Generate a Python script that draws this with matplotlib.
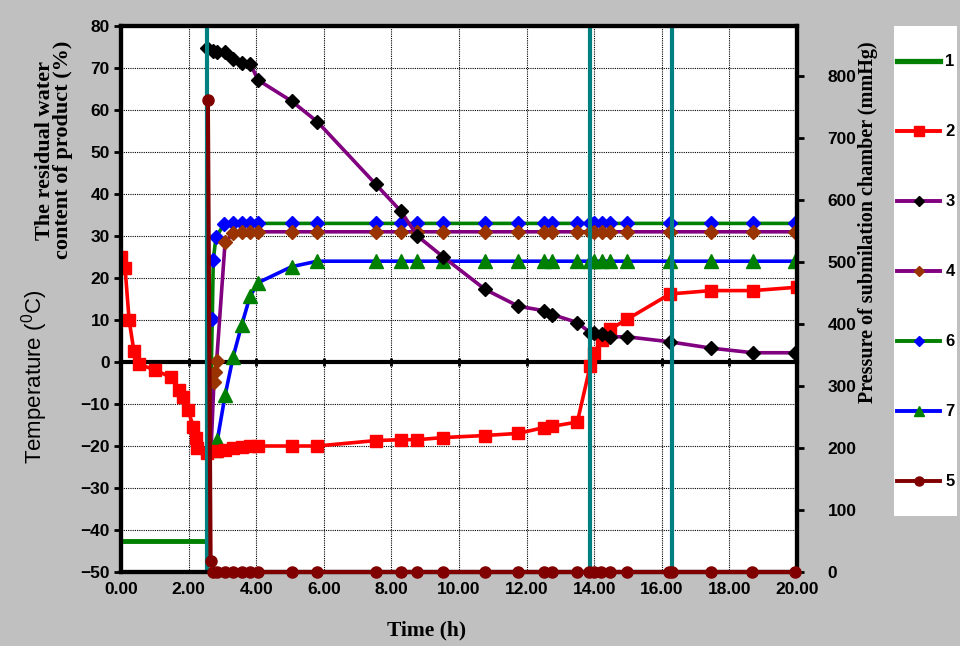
import matplotlib
matplotlib.use('Agg')
import matplotlib.pyplot as plt
from matplotlib.lines import Line2D
from matplotlib.patches import Rectangle

# ---------------- data ----------------
# 1: shelf temperature during freezing (green, no markers)
t1 = [0.0, 2.55]
s1 = [-42.5, -42.5]

# 2: product temperature (red squares)
t2 = [0.0, 0.12, 0.24, 0.38, 0.53, 1.0, 1.47, 1.72, 1.82, 1.98, 2.14, 2.22, 2.26,
      2.55, 2.83, 3.08, 3.32, 3.57, 3.82, 4.06, 5.05, 5.81, 7.54, 8.28, 8.77, 9.52,
      10.77, 11.75, 12.52, 12.76, 13.5, 13.88, 14.0, 14.22, 14.47, 14.98, 16.24,
      17.46, 18.7, 20.0]
s2 = [25, 22.4, 10, 2.7, -0.5, -1.9, -3.6, -6.7, -8.3, -11.4, -15.4, -18.1, -20.5,
      -21.7, -21.3, -21.0, -20.5, -20.2, -20.0, -20.0, -20.0, -20.0, -18.7, -18.5,
      -18.5, -18.0, -17.5, -17.0, -15.6, -15.3, -14.3, -1.0, 2.2, 5.2, 7.8, 10.2,
      16.2, 17.0, 17.0, 17.8]

# 3: residual water content (purple line, black diamonds)
t3 = [2.53, 2.73, 2.83, 3.08, 3.32, 3.57, 3.82, 4.06, 5.05, 5.81, 7.54, 8.28, 8.77,
      9.52, 10.77, 11.75, 12.52, 12.76, 13.5, 13.88, 14.0, 14.22, 14.47, 14.98,
      16.24, 17.46, 18.7, 19.94]
s3 = [74.7, 74.1, 73.8, 73.8, 72.1, 71.1, 71.0, 67.1, 62.1, 57.2, 42.3, 35.9, 30.0,
      25.1, 17.3, 13.3, 12.2, 11.3, 9.4, 7.0, 6.8, 6.7, 6.0, 6.0, 4.8, 3.3, 2.2, 2.2]

# 4: purple line, brown diamonds
t4 = [2.66, 2.75, 2.78, 2.83, 3.08, 3.32, 3.57, 3.82, 4.06, 5.05, 5.81, 7.54, 8.28,
      8.77, 9.52, 10.77, 11.75, 12.52, 12.76, 13.5, 13.88, 14.0, 14.22, 14.47, 14.98,
      16.24, 17.46, 18.7, 19.94]
s4 = [-21.5, -4.7, -2.3, 0.3, 28.6, 30.6, 31, 31, 31, 31, 31, 31, 31, 31, 31, 31,
      31, 31, 31, 31, 31, 31, 31, 31, 31, 31, 31, 31, 31]

# 6: green line, blue diamonds
t6 = [2.62, 2.70, 2.73, 2.81, 3.05, 3.32, 3.57, 3.82, 4.06, 5.05, 5.81, 7.54, 8.28,
      8.77, 9.52, 10.77, 11.75, 12.52, 12.76, 13.5, 13.88, 14.0, 14.22, 14.47, 14.98,
      16.24, 17.46, 18.7, 19.94]
s6 = [-21.5, 10.2, 24.3, 29.7, 32.8, 33, 33, 33, 33, 33, 33, 33, 33, 33, 33, 33, 33,
      33, 33, 33, 33, 33, 33, 33, 33, 33, 33, 33, 33]

# 7: blue line, green triangles
t7 = [2.52, 2.78, 2.85, 3.08, 3.32, 3.57, 3.82, 4.06, 5.05, 5.81, 7.54, 8.28, 8.77,
      9.52, 10.77, 11.75, 12.52, 12.76, 13.5, 13.88, 14.0, 14.22, 14.47, 14.98,
      16.24, 17.46, 18.7, 19.94]
s7 = [-22.0, -21.0, -18.6, -7.9, 1.3, 8.8, 15.7, 18.9, 22.7, 24, 24, 24, 24, 24, 24,
      24, 24, 24, 24, 24, 24, 24, 24, 24, 24, 24, 24, 24]

# 5: chamber pressure, mmHg (dark red circles, right axis)
t5 = [2.57, 2.65, 2.72, 2.83, 3.08, 3.32, 3.57, 3.82, 4.06, 5.05, 5.81, 7.54, 8.28,
      8.77, 9.52, 10.77, 11.75, 12.52, 12.76, 13.5, 13.85, 13.98, 14.2, 14.47, 14.96,
      16.2, 16.3, 17.45, 18.68, 19.94]
p5 = [760, 17, 0, 0, 0, 0, 0, 0, 0, 0, 0, 0, 0, 0, 0, 0, 0, 0, 0, 0, 0, 0, 0, 0, 0,
      0, 0, 0, 0, 0]

# stage boundaries (teal vertical lines)
stage_t = [2.55, 13.88, 16.3]

x_ticks = [0, 2, 4, 6, 8, 10, 12, 14, 16, 18, 20]
y_ticks = [-50, -40, -30, -20, -10, 0, 10, 20, 30, 40, 50, 60, 70, 80]
p_ticks = [0, 100, 200, 300, 400, 500, 600, 700, 800]
legend_labels = ['1', '2', '3', '4', '6', '7', '5']

# ---------------- styling ----------------
GREEN = '#008000'
RED = '#ff0000'
PURPLE = '#800080'
BROWN = '#993300'
BLUE = '#0000ff'
DARKRED = '#800000'
TEAL = '#008080'
SANS = 'Liberation Sans'
SERIF = 'Liberation Serif'
TICK_FS = 12.5

fig = plt.figure(figsize=(9.6, 6.46), dpi=100, facecolor='#c0c0c0')
ax = fig.add_axes([121 / 960, 74 / 646, 676 / 960, 546 / 646])
ax.set_facecolor('white')

ax.set_xlim(0, 20)
ax.set_ylim(-50, 80)
ax.set_xticks(x_ticks)
ax.set_xticklabels([f'{v:.2f}' for v in x_ticks])
ax.set_yticks(y_ticks)
ax.grid(True, color='black', linestyle=(0, (1, 1)), linewidth=0.8)
ax.set_axisbelow(True)

for sp in ax.spines.values():
    sp.set_linewidth(3)
    sp.set_color('black')

ax.tick_params(axis='x', length=0, pad=7)
ax.tick_params(axis='y', direction='out', length=5, width=2, pad=3)
for lab in ax.get_xticklabels() + ax.get_yticklabels():
    lab.set_fontfamily(SANS)
    lab.set_fontweight('bold')
    lab.set_fontsize(TICK_FS)

# x axis crossing at zero
sec = ax.secondary_xaxis(50 / 130)
sec.set_xticks(x_ticks)
sec.set_xticklabels([])
sec.tick_params(direction='inout', length=6, width=2)
sec.spines['bottom'].set_linewidth(3)
sec.spines['top'].set_visible(False)

lw = 2.6
ax.plot(t1, s1, color=GREEN, lw=3.5, zorder=3)
ax.plot(t2, s2, color=RED, lw=lw, marker='s', ms=8.5, mfc=RED, mec=RED, zorder=4)
ax.plot(t6, s6, color=GREEN, lw=lw, marker='D', ms=7, mfc=BLUE, mec=BLUE,
        markevery=list(range(1, len(t6))), zorder=3)
ax.plot(t4, s4, color=PURPLE, lw=lw, marker='D', ms=7, mfc=BROWN, mec=BROWN,
        markevery=list(range(1, len(t4))), zorder=3)
ax.plot(t7, s7, color=BLUE, lw=lw, marker='^', ms=9.5, mfc=GREEN, mec=GREEN,
        markevery=list(range(1, len(t7))), zorder=3)
ax.plot(t3, s3, color=PURPLE, lw=lw, marker='D', ms=7, mfc='black', mec='black',
        zorder=4)
for tv in stage_t:
    ax.axvline(tv, color=TEAL, lw=3, zorder=5)

ax2 = ax.twinx()
ax2.set_ylim(0, 880)
ax2.set_yticks(p_ticks)
ax2.tick_params(axis='y', direction='out', length=5, width=2, pad=17)
for lab in ax2.get_yticklabels():
    lab.set_fontfamily(SANS)
    lab.set_fontweight('bold')
    lab.set_fontsize(TICK_FS)
for sp in ax2.spines.values():
    sp.set_linewidth(3)
ax2.plot(t5, p5, color=DARKRED, lw=3, marker='o', ms=8, mfc=DARKRED,
         mec=DARKRED, clip_on=False, zorder=6)

# axis titles
fig.text(54 / 960, 1 - 150 / 646, 'The residual water\ncontent of product (%)',
         rotation=90, ha='center', va='center', family=SERIF, weight='bold',
         fontsize=16, linespacing=0.92)
fig.text(35 / 960, 1 - 377 / 646, 'Temperature ($\\mathregular{^0}$C)', rotation=90,
         ha='center', va='center', family=SANS, fontsize=16)
fig.text(868 / 960, 1 - 222 / 646, 'Pressure of submilation chamber (mmHg)',
         rotation=90, ha='center', va='center', family=SERIF, weight='bold',
         fontsize=14.5)
fig.text(427 / 960, 1 - 630 / 646, 'Time (h)', ha='center', va='center',
         family=SERIF, weight='bold', fontsize=15.5)

# legend
fig.patches.append(Rectangle((894 / 960, 1 - 516 / 646), 63 / 960, 490 / 646,
                             transform=fig.transFigure, facecolor='white',
                             edgecolor='none', zorder=0))
handles = [
    Line2D([], [], color=GREEN, lw=3.8),
    Line2D([], [], color=RED, lw=2.8, marker='s', ms=7, mfc=RED, mec=RED),
    Line2D([], [], color=PURPLE, lw=2.8, marker='D', ms=5.5, mfc='black', mec='black'),
    Line2D([], [], color=PURPLE, lw=2.8, marker='D', ms=5.5, mfc=BROWN, mec=BROWN),
    Line2D([], [], color=GREEN, lw=2.8, marker='D', ms=5.5, mfc=BLUE, mec=BLUE),
    Line2D([], [], color=BLUE, lw=2.8, marker='^', ms=7.5, mfc=GREEN, mec=GREEN),
    Line2D([], [], color=DARKRED, lw=2.8, marker='o', ms=6.5, mfc=DARKRED, mec=DARKRED),
]
fig.legend(handles, legend_labels, loc='upper left',
           bbox_to_anchor=(897 / 960, 1 - 54.5 / 646), frameon=False,
           borderaxespad=0, borderpad=0, handlelength=2.6, handletextpad=0.3,
           labelspacing=3.3, numpoints=1,
           prop={'family': SANS, 'weight': 'bold', 'size': 12})

fig.savefig('out.png', dpi=100, facecolor=fig.get_facecolor())
